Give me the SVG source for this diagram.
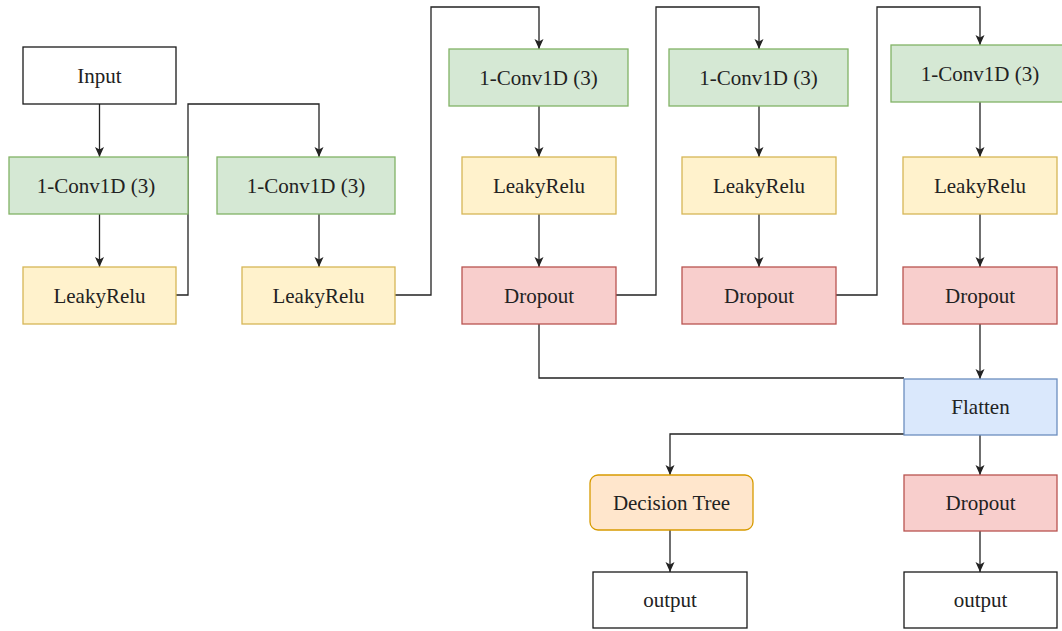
<svg xmlns="http://www.w3.org/2000/svg" width="1062" height="631" viewBox="0 0 1062 631">
<style>
.n{stroke-width:1.3}
.w{fill:#ffffff;stroke:#1a1a1a}
.g{fill:#d5e8d4;stroke:#82b366}
.y{fill:#fff2cc;stroke:#d6b656}
.r{fill:#f8cecc;stroke:#b85450}
.b{fill:#dae8fc;stroke:#6c8ebf}
.o{fill:#ffe6cc;stroke:#d79b00}
.t{font-family:'Liberation Serif','DejaVu Serif',serif;font-size:21px;fill:#222;text-anchor:middle}
.e{fill:none;stroke:#222;stroke-width:1.3}
.a{marker-end:url(#arr)}
</style>
<defs>
<marker id="arr" markerUnits="userSpaceOnUse" markerWidth="11" markerHeight="10" refX="10" refY="4.5" orient="auto">
<path d="M0,0 L10,4.5 L0,9 L2.5,4.5 Z" fill="#222"/>
</marker>
</defs>
<rect width="1062" height="631" fill="#ffffff"/>
<g id="connectors">
<path class="e a" d="M99.5,104 V157"/>
<path class="e a" d="M99.5,214 V267"/>
<path class="e a" d="M176,295 H188 V104 H319 V157"/>
<path class="e a" d="M319,214 V267"/>
<path class="e a" d="M395,295 H431 V7 H539 V49"/>
<path class="e a" d="M539,106 V157"/>
<path class="e a" d="M539,214 V267"/>
<path class="e a" d="M616,295 H656 V7 H759 V49"/>
<path class="e a" d="M759,106 V157"/>
<path class="e a" d="M759,214 V267"/>
<path class="e a" d="M836,295 H877 V7 H980 V45"/>
<path class="e a" d="M980,102 V157"/>
<path class="e a" d="M980,214 V267"/>
<path class="e a" d="M980,324 V379"/>
<path class="e" d="M539,324 V378 H904"/>
<path class="e a" d="M904,434 H670 V475"/>
<path class="e a" d="M980,435 V475"/>
<path class="e a" d="M670,530 V572"/>
<path class="e a" d="M980,531 V572"/>
</g>
<g id="input"><rect class="n w" x="23" y="47" width="153" height="57"/><text class="t" x="99.5" y="82.5">Input</text></g>
<g id="conv1"><rect class="n g" x="9" y="157" width="179" height="57"/><text class="t" x="96" y="192.5">1-Conv1D (3)</text></g>
<g id="leaky1"><rect class="n y" x="23" y="267" width="153" height="57"/><text class="t" x="99.5" y="302.5">LeakyRelu</text></g>
<g id="conv2"><rect class="n g" x="217" y="157" width="178" height="57"/><text class="t" x="306" y="192.5">1-Conv1D (3)</text></g>
<g id="leaky2"><rect class="n y" x="242" y="267" width="153" height="57"/><text class="t" x="318.5" y="302.5">LeakyRelu</text></g>
<g id="conv3"><rect class="n g" x="449" y="49" width="179" height="57"/><text class="t" x="538.5" y="84.5">1-Conv1D (3)</text></g>
<g id="leaky3"><rect class="n y" x="462" y="157" width="154" height="57"/><text class="t" x="539" y="192.5">LeakyRelu</text></g>
<g id="dropout1"><rect class="n r" x="462" y="267" width="154" height="57"/><text class="t" x="539" y="302.5">Dropout</text></g>
<g id="conv4"><rect class="n g" x="669" y="49" width="179" height="57"/><text class="t" x="758.5" y="84.5">1-Conv1D (3)</text></g>
<g id="leaky4"><rect class="n y" x="682" y="157" width="154" height="57"/><text class="t" x="759" y="192.5">LeakyRelu</text></g>
<g id="dropout2"><rect class="n r" x="682" y="267" width="154" height="57"/><text class="t" x="759" y="302.5">Dropout</text></g>
<g id="conv5"><rect class="n g" x="891" y="45" width="179" height="57"/><text class="t" x="980" y="80.5">1-Conv1D (3)</text></g>
<g id="leaky5"><rect class="n y" x="903" y="157" width="154" height="57"/><text class="t" x="980" y="192.5">LeakyRelu</text></g>
<g id="dropout3"><rect class="n r" x="903" y="267" width="154" height="57"/><text class="t" x="980" y="302.5">Dropout</text></g>
<g id="flatten"><rect class="n b" x="904" y="379" width="153" height="56"/><text class="t" x="980.5" y="414">Flatten</text></g>
<g id="decision-tree"><rect class="n o" x="590" y="475" width="163" height="55" rx="8" ry="8"/><text class="t" x="671.5" y="509.5">Decision Tree</text></g>
<g id="dropout4"><rect class="n r" x="904" y="475" width="153" height="56"/><text class="t" x="980.5" y="510">Dropout</text></g>
<g id="output1"><rect class="n w" x="593" y="572" width="154" height="56"/><text class="t" x="670" y="607">output</text></g>
<g id="output2"><rect class="n w" x="904" y="572" width="153" height="56"/><text class="t" x="980.5" y="607">output</text></g>
</svg>
